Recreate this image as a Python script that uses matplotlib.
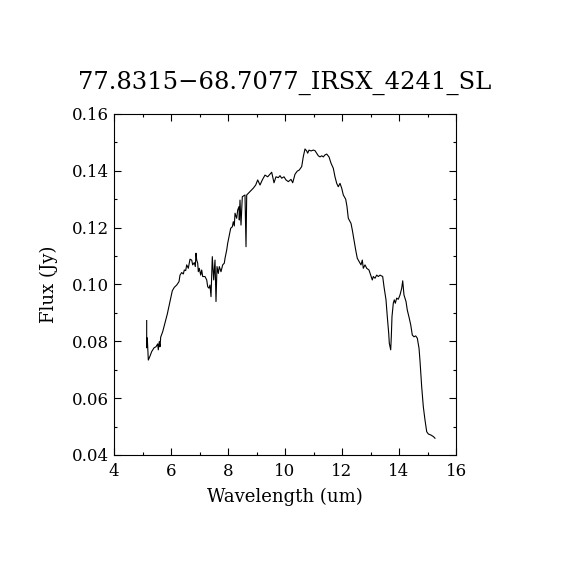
import matplotlib
matplotlib.use("Agg")
import matplotlib.pyplot as plt
from matplotlib.ticker import MultipleLocator, FormatStrFormatter

title = "77.8315\u221268.7077_IRSX_4241_SL"

### Spectrum (wavelength in um, flux in Jy).
wave = [5.147, 5.147, 5.168, 5.204, 5.263, 5.323, 5.404, 5.474, 5.533, 5.554,
        5.589, 5.614, 5.639, 5.709, 5.789, 5.870, 5.940, 6.000, 6.046, 6.116,
        6.200, 6.281, 6.316, 6.375, 6.432, 6.467, 6.516, 6.551, 6.607, 6.667,
        6.726, 6.761, 6.818, 6.853, 6.877, 6.902, 6.937, 6.958, 6.993, 7.042,
        7.077, 7.112, 7.193, 7.253, 7.288, 7.333, 7.368, 7.404, 7.449, 7.498,
        7.544, 7.579, 7.614, 7.660, 7.695, 7.754, 7.814, 7.870, 7.895, 7.954,
        7.989, 8.035, 8.095, 8.151, 8.186, 8.221, 8.246, 8.305, 8.340, 8.386,
        8.396, 8.421, 8.456, 8.502, 8.596, 8.632, 8.656, 8.772, 8.888, 8.972,
        9.042, 9.123, 9.204, 9.298, 9.393, 9.474, 9.533, 9.614, 9.684, 9.765,
        9.825, 9.884, 9.965, 10.035, 10.116, 10.211, 10.270, 10.351, 10.432, 10.502,
        10.586, 10.642, 10.702, 10.761, 10.796, 10.842, 10.912, 10.993, 11.053, 11.112,
        11.168, 11.228, 11.288, 11.344, 11.404, 11.463, 11.544, 11.614, 11.695, 11.754,
        11.814, 11.870, 11.930, 11.989, 12.046, 12.130, 12.175, 12.221, 12.316, 12.361,
        12.421, 12.481, 12.537, 12.607, 12.667, 12.712, 12.747, 12.807, 12.867, 12.947,
        13.007, 13.063, 13.098, 13.158, 13.218, 13.274, 13.333, 13.428, 13.474, 13.544,
        13.589, 13.639, 13.660, 13.709, 13.730, 13.754, 13.800, 13.835, 13.870, 13.919,
        13.975, 14.035, 14.095, 14.130, 14.175, 14.246, 14.291, 14.361, 14.411, 14.467,
        14.526, 14.586, 14.642, 14.702, 14.737, 14.796, 14.853, 14.912, 14.972, 15.028,
        15.123, 15.204, 15.263]

flux = [0.0873, 0.0777, 0.0812, 0.0734, 0.0748, 0.0764, 0.0777, 0.0781, 0.0791, 0.0770,
        0.0799, 0.0781, 0.0815, 0.0834, 0.0865, 0.0896, 0.0928, 0.0957, 0.0978, 0.0990,
        0.0998, 0.1010, 0.1033, 0.1042, 0.1037, 0.1051, 0.1049, 0.1069, 0.1057, 0.1089,
        0.1086, 0.1069, 0.1077, 0.1063, 0.1110, 0.1086, 0.1075, 0.1045, 0.1057, 0.1033,
        0.1051, 0.1028, 0.1028, 0.1016, 0.0992, 0.0987, 0.0998, 0.0957, 0.1098, 0.1016,
        0.1086, 0.0940, 0.1063, 0.1039, 0.1063, 0.1045, 0.1069, 0.1075, 0.1092, 0.1121,
        0.1145, 0.1168, 0.1198, 0.1203, 0.1221, 0.1206, 0.1251, 0.1233, 0.1262, 0.1274,
        0.1227, 0.1297, 0.1209, 0.1309, 0.1315, 0.1133, 0.1315, 0.1327, 0.1339, 0.1350,
        0.1368, 0.1350, 0.1368, 0.1385, 0.1379, 0.1388, 0.1395, 0.1358, 0.1379, 0.1376,
        0.1383, 0.1374, 0.1379, 0.1368, 0.1362, 0.1370, 0.1358, 0.1388, 0.1399, 0.1403,
        0.1415, 0.1450, 0.1477, 0.1470, 0.1462, 0.1473, 0.1470, 0.1473, 0.1471, 0.1462,
        0.1453, 0.1449, 0.1453, 0.1449, 0.1456, 0.1459, 0.1449, 0.1427, 0.1409, 0.1379,
        0.1356, 0.1344, 0.1356, 0.1339, 0.1315, 0.1300, 0.1274, 0.1233, 0.1215, 0.1192,
        0.1157, 0.1121, 0.1092, 0.1080, 0.1069, 0.1086, 0.1057, 0.1069, 0.1057, 0.1051,
        0.1033, 0.1016, 0.1028, 0.1022, 0.1033, 0.1028, 0.1033, 0.1028, 0.0992, 0.0946,
        0.0887, 0.0828, 0.0793, 0.0770, 0.0816, 0.0887, 0.0934, 0.0946, 0.0934, 0.0952,
        0.0948, 0.0963, 0.0987, 0.1013, 0.0963, 0.0940, 0.0910, 0.0881, 0.0858, 0.0822,
        0.0816, 0.0819, 0.0811, 0.0776, 0.0731, 0.0640, 0.0570, 0.0523, 0.0482, 0.0474,
        0.0470, 0.0465, 0.0459]

plt.rcParams['font.family'] = ['DejaVu Serif']

fig = plt.figure(figsize=(5.7, 5.7), dpi=100)
ax = fig.add_axes([0.2, 0.2018, 0.6, 0.5982])

ax.plot(wave, flux, color='black', linewidth=0.8)

ax.set_xlim(4, 16)
ax.set_ylim(0.04, 0.16)
ax.xaxis.set_major_locator(MultipleLocator(2))
ax.xaxis.set_minor_locator(MultipleLocator(1))
ax.yaxis.set_major_locator(MultipleLocator(0.02))
ax.yaxis.set_minor_locator(MultipleLocator(0.01))
ax.yaxis.set_major_formatter(FormatStrFormatter('%.2f'))
ax.tick_params(which='both', direction='in', top=True, right=True, labelsize=12, width=0.8)
ax.tick_params(which='major', length=5)
ax.tick_params(axis='x', pad=6)
ax.tick_params(which='minor', length=2.5)
for s in ax.spines.values():
    s.set_linewidth(0.8)

ax.set_xlabel('Wavelength (um)', fontsize=13, labelpad=5)
ax.set_ylabel('Flux (Jy)', fontsize=13, labelpad=10)
ax.set_title(title, fontsize=17.5, pad=18)

plt.savefig('out.png', dpi=100)
